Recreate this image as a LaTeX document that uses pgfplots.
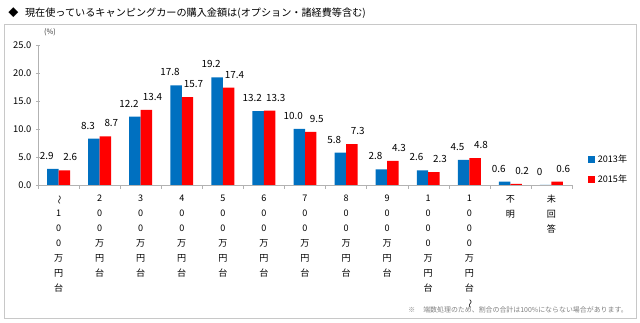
\documentclass[border=0pt]{standalone}
\usepackage{pgfplots}
\pgfplotsset{compat=1.18}
\usepackage{graphicx}
\usepackage{fontspec}
\setmainfont{Noto Sans CJK JP}
\definecolor{cblue}{RGB}{0,112,192}
\definecolor{cred}{RGB}{255,0,0}
\definecolor{frm}{RGB}{200,200,200}
\newcommand{\wdash}{\rotatebox[origin=c]{-90}{～}}
\begin{document}
\begin{tikzpicture}
\path[use as bounding box] (0,0) rectangle (480pt,-242.25pt);
\draw[frm, line width=0.6pt] (4*0.75pt,-24*0.75pt) rectangle (636*0.75pt,-318*0.75pt);
\node[anchor=west, inner sep=0pt, font=\fontsize{7.6}{9}\selectfont] at (8*0.75pt,-13*0.75pt) {◆\hspace{5pt}現在使っているキャンピングカーの購入金額は(オプション・諸経費等含む)};
\node[anchor=center, inner sep=0pt, font=\fontsize{5.5}{6}\selectfont, text=black!80] at (50*0.75pt,-32*0.75pt) {(\%)};
\node[anchor=east, inner sep=0pt, font=\fontsize{5.2}{6}\selectfont, text=gray] at (628*0.75pt,-310*0.75pt) {※\hspace{6pt}端数処理のため、割合の合計は100\%にならない場合があります。};
\begin{axis}[
  at={(38*0.75pt,-185*0.75pt)}, anchor=south west,
  scale only axis, width=400.5pt, height=105pt,
  ymin=0, ymax=25, ytick={0,5,...,25},
  xmin=-0.5, xmax=12.5,
  xtick={0,...,12},
  minor xtick={-0.5,0.5,...,12.5},
  major x tick style={draw=none},
  minor tick length=3pt,
  major tick length=3pt,
  tick align=outside,
  tick style={gray!60},
  axis x line=bottom, axis y line=left,
  axis line style={draw=gray!60, -},
  yticklabel style={/pgf/number format/fixed, /pgf/number format/fixed zerofill, /pgf/number format/precision=1, font=\fontsize{7}{8}\selectfont},
  /pgf/number format/assume math mode=true,
  xticklabel style={align=center, anchor=north, font=\fontsize{6.8}{11.25}\selectfont, yshift=-1pt},
  xticklabels={{\wdash\\1\\0\\0\\万\\円\\台},{2\\0\\0\\万\\円\\台},{3\\0\\0\\万\\円\\台},{4\\0\\0\\万\\円\\台},{5\\0\\0\\万\\円\\台},{6\\0\\0\\万\\円\\台},{7\\0\\0\\万\\円\\台},{8\\0\\0\\万\\円\\台},{9\\0\\0\\万\\円\\台},{1\\0\\0\\0\\万\\円\\台},{1\\0\\0\\0\\万\\円\\台\\\wdash},{不\\明},{未\\回\\答}},
  ybar=0pt, bar width=8.6pt,
  point meta=explicit symbolic,
  nodes near coords,
  nodes near coords style={font=\fontsize{7.4}{9}\selectfont, anchor=south, yshift=3.5pt},
  legend style={at={(1.03,0.11)}, anchor=west, draw=none, fill=none, font=\fontsize{6.8}{8}\selectfont, row sep=4pt, inner sep=0pt},
  legend cell align=left,
  legend image code/.code={\path[#1, draw=none] (0pt,-2.6pt) rectangle (5.2pt,2.6pt);},
]
\addplot[fill=cblue, draw=none, every node near coord/.append style={xshift=-4.5pt}] coordinates {
(0,2.9) [2.9] (1,8.3) [8.3] (2,12.2) [12.2] (3,17.8) [17.8] (4,19.2) [19.2] (5,13.2) [13.2] (6,10.0) [10.0] (7,5.8) [5.8] (8,2.8) [2.8] (9,2.6) [2.6] (10,4.5) [4.5] (11,0.6) [0.6] (12,0) [0]
};
\addplot[fill=cred, draw=none, every node near coord/.append style={xshift=4.5pt}] coordinates {
(0,2.6) [2.6] (1,8.7) [8.7] (2,13.4) [13.4] (3,15.7) [15.7] (4,17.4) [17.4] (5,13.3) [13.3] (6,9.5) [9.5] (7,7.3) [7.3] (8,4.3) [4.3] (9,2.3) [2.3] (10,4.8) [4.8] (11,0.2) [0.2] (12,0.6) [0.6]
};
\legend{2013年,2015年}
\end{axis}
\end{tikzpicture}
\end{document}
